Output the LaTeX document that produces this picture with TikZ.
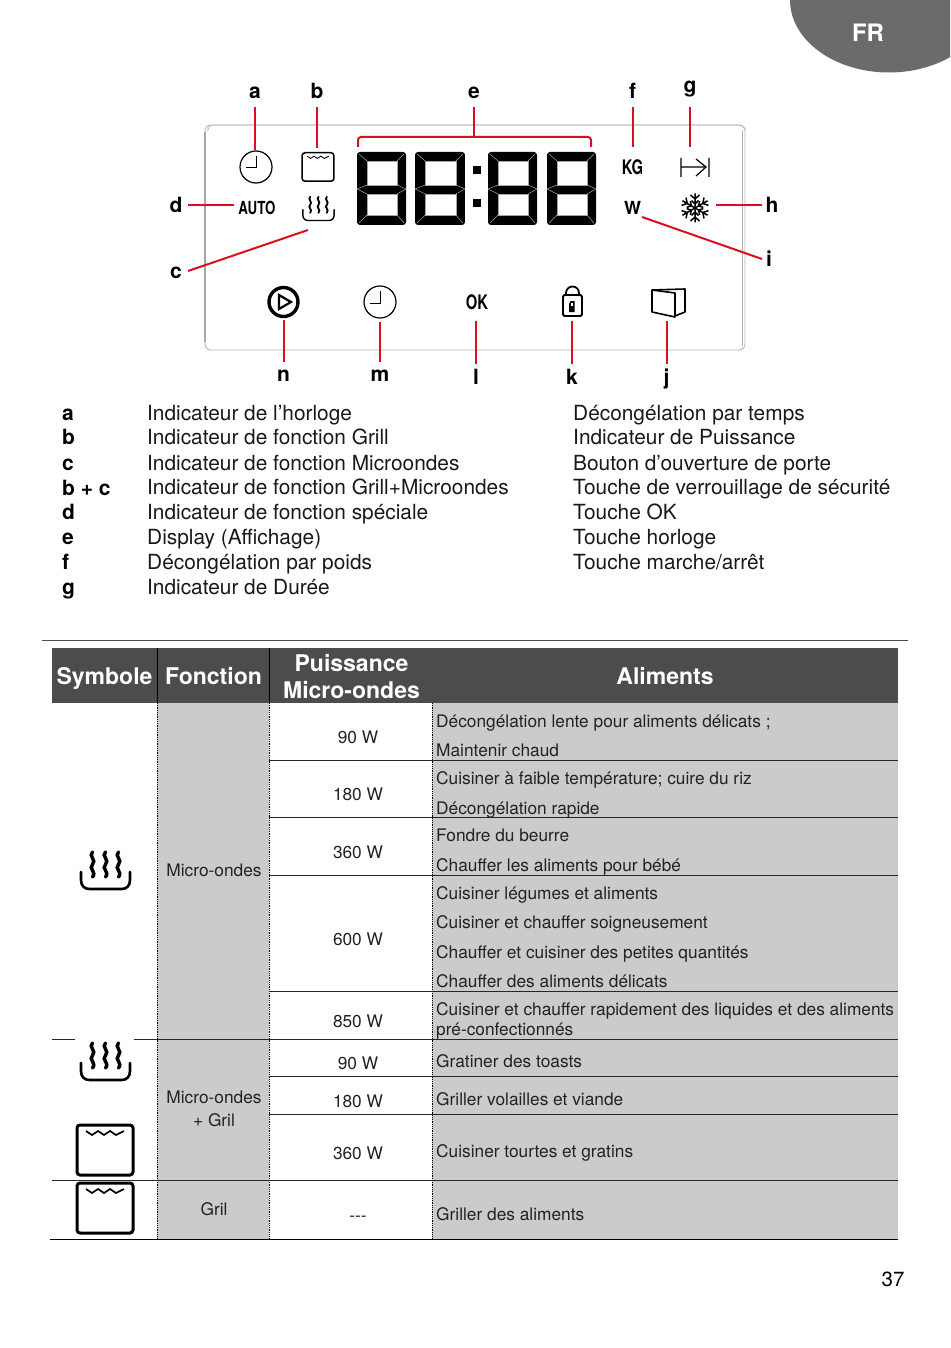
\documentclass[tikz,border=0pt]{standalone}
\usepackage{fontspec}
\setmainfont{TeX Gyre Heros}
\definecolor{redline}{HTML}{DC0F1E}
\definecolor{cellgray}{HTML}{CBCBCB}
\definecolor{headgray}{HTML}{4C4C4C}
\definecolor{tabfg}{HTML}{222222}
\newcommand{\fsz}[1]{\fontsize{#1}{#1}\selectfont}
\tikzset{
  x=1pt,y=-1pt,
  callout/.style={draw=redline,line width=2pt},
  letter/.style={font=\fsz{21}\bfseries,inner sep=0,outer sep=0,text height=15pt,text depth=0pt,minimum width=24pt},
  tops/.style={letter,minimum height=32pt},
  bots/.style={letter,minimum height=25pt},
  iconbox/.style={inner sep=0,outer sep=0,minimum width=#1,minimum height=#1},
  lcd/.style={font=\fsz{#1}\bfseries,inner sep=0,outer sep=0,xscale=.74,text=black},
  listtext/.style={font=\fsz{20.85},anchor=base west,inner sep=0,text=black!90},
  listkey/.style={font=\fsz{21}\bfseries,anchor=base west,inner sep=0},
  cell/.style={font=\fsz{17.3},anchor=base west,inner sep=0,text=tabfg},
  cellc/.style={font=\fsz{17.3},anchor=base,inner sep=0,text=tabfg,align=center},
  headc/.style={font=\fsz{23}\bfseries,text=white,inner sep=0,align=center},
  rowline/.style={draw=black!85,line width=.9pt},
  vdots/.style={draw=black,line width=.8pt,densely dotted},
  pics/clockicon/.style={code={
    \draw (0,0) circle (16);
    \draw[line width=1pt] (0.5,-11) -- (0.5,1) -- (-10,1);
  }},
  pics/ovenicon/.style={code={
    \draw[rounded corners=3] (-28,-25) rectangle (28,25);
    \draw[line width=.75*\pgflinewidth] (-19,-19) -- (-13,-15) -- (-7,-19) -- (-1,-15) -- (5,-19) -- (11,-15) -- (19,-19);
  }},
  pics/steamicon/.style={code={
    \draw[line cap=round] (-24.5,1) -- (-24.5,9) .. controls (-24.5,15) and (-21,18) .. (-16,18) -- (16,18) .. controls (21,18) and (24.5,15) .. (24.5,9) -- (24.5,1);
    \foreach \dx in {-13,0,13}{
      \draw[xshift=\dx*1pt,line width=1.15*\pgflinewidth,line cap=round] (0,-19) .. controls (-4.5,-15) and (4.5,-11) .. (0,-6.5) .. controls (-4.5,-2.5) and (4.5,1) .. (0,6);
    }
  }},
  pics/digiticon/.style={code={
    \fill[black,rounded corners=3] (0,0) rectangle (49,73);
    \fill[white,draw=gray!70,line width=.5pt] (10,9) rectangle (40,33);
    \fill[white,draw=gray!70,line width=.5pt] (10,42) rectangle (40,63);
    \draw[gray!70,line width=.5pt] (0,37) -- (10,33) (0,37) -- (10,42) (49,37) -- (40,33) (49,37) -- (40,42)
      (2,2) -- (10,9) (47,2) -- (40,9) (2,71) -- (10,63) (47,71) -- (40,63);
  }},
}
\begin{document}
\begin{tikzpicture}
\useasboundingbox (0,0) rectangle (950,1348);
\fill[white] (0,0) rectangle (950,1348);
% FR tab
\begin{scope}
  \clip (0,0) rectangle (950,1348);
  \fill[black!58] (889,0) ellipse [x radius=99,y radius=72.5];
\end{scope}
\node[font=\fsz{24}\bfseries,text=white,inner sep=0] (fr) at (868,33) {FR};

% panel
\draw[black!28,line width=.9pt,rounded corners=6] (205,125) rectangle (745,350);
\draw[black!28,line width=.7pt,rounded corners=5] (208,128) -- (208,125) -- (742,125) -- (745,128);
\draw[black!35,line width=2.2pt] (205,132) -- (205,342);
\draw[black!30,line width=.8pt] (742,130) -- (742,346);

% display
\pic at (357,152) {digiticon};
\pic[xscale=1.02] at (415,152) {digiticon};
\pic at (488,152) {digiticon};
\pic at (547,152) {digiticon};
\fill (473,166) rectangle (481,174.5);
\fill (473,199) rectangle (481,207.5);
\coordinate (eL) at (358,147);
\coordinate (eR) at (591,147);
\coordinate (eM) at (474,137);

% indicator nodes
\node[iconbox=34pt] (ia) at (256,167) {};
\pic[line width=1.2pt] at (ia.center) {clockicon};
\node[iconbox=38pt] (ib) at (317,167) {};
\pic[line width=1.5pt,scale=.57] at (318,167) {ovenicon};
\coordinate (ic) at (308,230);
\pic[line width=1.4pt,scale=.64] at (318.5,209) {steamicon};
\node[lcd=18,minimum height=18pt] (id) at (257,208) {AUTO};
\coordinate (idw) at (234,205);
\node[lcd=20,minimum height=40pt,minimum width=28pt] (ifk) at (632.5,167) {KG};
\node[iconbox=40pt] (ig) at (690,167) {};
\draw[line width=1.2pt] (681,158) -- (681,177) (709,158) -- (709,177) (681,167) -- (704,167) (696,159) -- (706,167) -- (696,176);
\coordinate (ih) at (716,205);
\begin{scope}[shift={(695,208)},line width=1.5pt]
  \foreach \a in {0,60,...,300}{
    \draw[rotate=\a] (0,0) -- (0,-14.5) (0,-9) -- (-4.5,-13) (0,-9) -- (4.5,-13) (0,-4) -- (-3.5,-7.5) (0,-4) -- (3.5,-7.5);
  }
\end{scope}
\node[font=\fsz{18}\bfseries,inner sep=0,outer sep=0] (iw) at (632.5,208) {W};
\coordinate (iws) at (642,217);
% buttons
\node[iconbox=36pt] (in) at (283.5,302) {};
\draw[line width=3.4pt] (in.center) circle (14.5);
\draw[line width=2.2pt,line join=miter] (279,295) -- (291,302) -- (279,309) -- cycle;
\node[iconbox=40pt] (im) at (380,302) {};
\pic[line width=1.2pt] at (380,302) {clockicon};
\node[lcd=20,minimum height=38pt,minimum width=28pt] (il) at (477,302) {OK};
\node[iconbox=38pt] (ik) at (572,302) {};
\draw[line width=1.8pt,rounded corners=1.5] (563,295) rectangle (582,316);
\draw[line width=1.8pt] (566,295) -- (566,293) arc[start angle=180,end angle=360,radius=6.5] -- (579,295);
\fill (570.5,301) -- (574.5,301) -- (574.5,312) -- (569,312) -- (569,304) -- cycle;
\fill[white] (571,303) rectangle (573,306);
\node[iconbox=38pt] (ij) at (667,302) {};
\draw[line width=1.6pt,line join=round] (652,290) -- (675,293) -- (675,317) -- (652,312) -- cycle;
\draw[line width=1.6pt,line join=round] (652,290) -- (685,289) -- (685,312) -- (675,316);

% letters
\node[tops] (la) at (255,91) {a};
\node[tops] (lb) at (317,91) {b};
\node[tops] (le) at (474,91) {e};
\node[tops] (lf) at (632.5,91) {f};
\node[letter,minimum height=43pt] (lg) at (690,85.5) {g};
\node[letter] (ld) at (176,205) {d};
\node[letter] (lc) at (176,271) {c};
\node[letter,minimum width=20pt] (lh) at (772,205) {h};
\node[letter,minimum width=14pt] (li) at (769,259) {i};
\node[bots] (ln) at (283.5,374) {n};
\node[bots] (lm) at (380,374) {m};
\node[bots,minimum height=26pt] (ll) at (476,377) {l};
\node[bots,minimum height=26pt] (lk) at (572,377) {k};
\node[bots,minimum height=26pt] (lj) at (666.5,377) {j};

% connectors
\draw[callout] (la.south) -- (la.south |- ia.north);
\draw[callout] (lb.south) -- (ib.north);
\draw[callout] (le.south) -- (eM);
\draw[callout,rounded corners=3] (eL) -- (eL |- eM) -- (eR |- eM) -- (eR);
\draw[callout] (lf.south) -- (ifk.north);
\draw[callout] (lg.south) -- (ig.north);
\draw[callout] (ld.east) -- (idw);
\draw[callout] (lc.east) -- (ic);
\draw[callout] (lh.west) -- (ih);
\draw[callout] (li.west) -- (iws);
\draw[callout] (ln.north) -- (in.south);
\draw[callout] (lm.north) -- (im.south);
\draw[callout] (ll.north) -- (ll.north |- il.south);
\draw[callout] (lk.north) -- (ik.south);
\draw[callout] (lj.north) -- (lj.north |- ij.south);

% legend
\foreach \yy/\k [count=\i] in {420/a,444/b,470/c,495/{b + c},519/d,544/e,569/f,594/g}{
  \node[listkey,name=key\i] at (62,\yy) {\k};
}
\foreach \yy/\t [count=\i] in {420/{Indicateur de l’horloge},444/{Indicateur de fonction Grill},470/{Indicateur de fonction Microondes},494/{Indicateur de fonction Grill+Microondes},519/{Indicateur de fonction spéciale},544/{Display (Affichage)},569/{Décongélation par poids},594/{Indicateur de Durée}}{
  \node[listtext,name=leg\i] at (147,\yy) {\t};
}
\foreach \yy/\t [count=\i] in {420/{Décongélation par temps},444/{Indicateur de Puissance},470/{Bouton d’ouverture de porte},494/{Touche de verrouillage de sécurité},519/{Touche OK},544/{Touche horloge},569/{Touche marche/arrêt}}{
  \node[listtext,name=rleg\i] at (573,\yy) {\t};
}

% rule above table
\draw[black!70,line width=1pt] (42,640) -- (908,640);

% table fills
\fill[headgray] (52,648) rectangle (898,703);
\fill[cellgray] (157,703) rectangle (269,1239);
\fill[cellgray] (432,703) rectangle (898,1239);
% header
\draw[black,line width=.8pt] (157.5,648) -- (157.5,703) (269.5,648) -- (269.5,703);
\node[headc,anchor=base] (h1) at (104.5,684) {Symbole};
\node[headc,anchor=base] (h2) at (213.5,684) {Fonction};
\node[headc] (h3) at (351.5,677) {Puissance\\[4pt]Micro-ondes};
\node[headc,anchor=base] (h4) at (665,684) {Aliments};
% dotted
\draw[vdots] (157.5,703) -- (157.5,1239) (269.5,703) -- (269.5,1239) (432.5,703) -- (432.5,1239);
% row lines
\draw[rowline] (269,760.5) -- (898,760.5);
\draw[rowline] (269,817.5) -- (898,817.5);
\draw[rowline] (269,875.5) -- (898,875.5);
\draw[rowline] (269,991.5) -- (898,991.5);
\draw[rowline] (52,1039.5) -- (75,1039.5) (134,1039.5) -- (898,1039.5);
\draw[rowline] (269,1076.5) -- (898,1076.5);
\draw[rowline] (269,1114.5) -- (898,1114.5);
\draw[rowline] (52,1180.5) -- (898,1180.5);
\draw[rowline,draw=black] (50,1239.5) -- (898,1239.5);
% symbols
\pic[line width=2.6pt] at (105.5,871) {steamicon};
\pic[line width=2.6pt] at (105.5,1062) {steamicon};
\pic[line width=3pt] at (105,1150) {ovenicon};
\pic[line width=3pt] at (105,1208) {ovenicon};
% function column
\node[cellc,name=f1] at (214,876) {Micro-ondes};
\node[cellc,name=f2] at (214,1103) {Micro-ondes};
\node[cellc,name=f2b] at (214,1126) {+ Gril};
\node[cellc,name=f3] at (214,1215) {Gril};
% power column
\foreach \yy/\t [count=\i] in {743/90 W,800/180 W,858/360 W,945/600 W,1027/850 W,1069/90 W,1107/180 W,1159/360 W,1221/{{-}{-}{-}}}{
  \node[cellc,name=p\i] at (358,\yy) {\t};
}
% aliments
\foreach \yy/\t [count=\i] in {
 727/{Décongélation lente pour aliments délicats ;},
 756/{Maintenir chaud},
 784/{Cuisiner à faible température; cuire du riz},
 814/{Décongélation rapide},
 841/{Fondre du beurre},
 871/{Chauffer les aliments pour bébé},
 899/{Cuisiner légumes et aliments},
 928/{Cuisiner et chauffer soigneusement},
 958/{Chauffer et cuisiner des petites quantités},
 987/{Chauffer des aliments délicats},
 1015/{Cuisiner et chauffer rapidement des liquides et des aliments},
 1035/{pré-confectionnés},
 1067/{Gratiner des toasts},
 1105/{Griller volailles et viande},
 1157/{Cuisiner tourtes et gratins},
 1220/{Griller des aliments}}{
  \node[cell,name=a\i] at (436,\yy) {\t};
}
\node[font=\fsz{20.5},inner sep=0,anchor=base] (pg) at (893,1286) {37};
\end{tikzpicture}
\end{document}
